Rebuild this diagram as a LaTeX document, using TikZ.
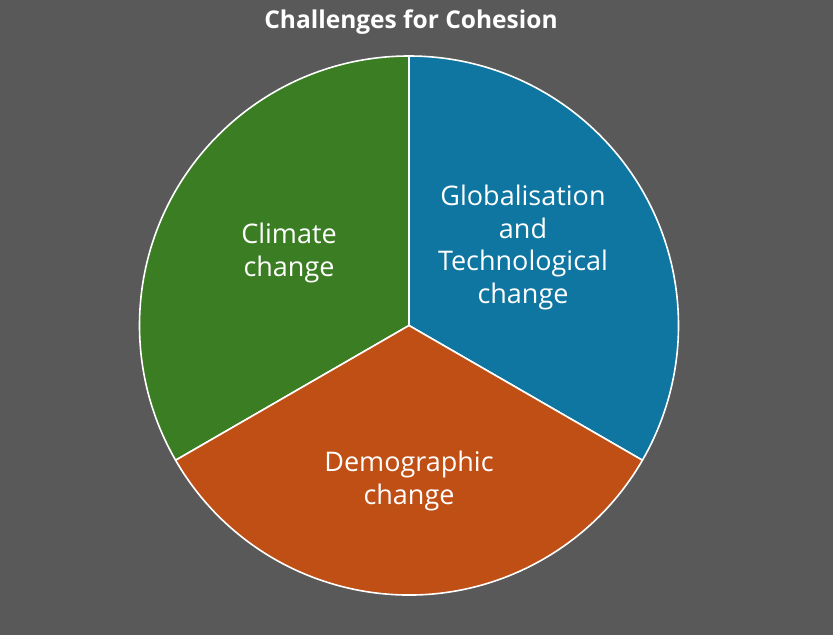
\documentclass[tikz,border=0pt]{standalone}
\usepackage{fontspec}
\setmainfont{Open Sans}
\definecolor{bgrey}{HTML}{595959}
\definecolor{climgreen}{HTML}{3B7D23}
\definecolor{globblue}{HTML}{0E76A0}
\definecolor{demoorange}{HTML}{C04F15}
\tikzset{
  wedge/.style={draw=white, line width=1.6pt, line join=round},
  wedgelabel/.style={text=white, align=center, font=\fontsize{27}{32.5}\selectfont},
  charttitle/.style={text=white, font=\bfseries\fontsize{24.5}{28}\selectfont},
}

\begin{document}
\begin{tikzpicture}[x=1pt,y=1pt]
\useasboundingbox (0,0) rectangle (833,635);
\fill[bgrey] (0,0) rectangle (833,635);
\coordinate (centre) at (409,309.5);
\draw[wedge, fill=globblue] (centre) -- ++(90:269.5) arc (90:-30:269.5) -- cycle;
\draw[wedge, fill=climgreen] (centre) -- ++(90:269.5) arc (90:210:269.5) -- cycle;
\draw[wedge, fill=demoorange] (centre) -- ++(210:269.5) arc (210:330:269.5) -- cycle;
\node[charttitle] (title) at (411,613) {Challenges for Cohesion};
\node[wedgelabel] (climate) at (289,382) {Climate\\change};
\node[wedgelabel] (glob) at (523,387.5) {Globalisation\\and\\Technological\\change};
\node[wedgelabel] (demo) at (409,154) {Demographic\\change};
\end{tikzpicture}
\end{document}
